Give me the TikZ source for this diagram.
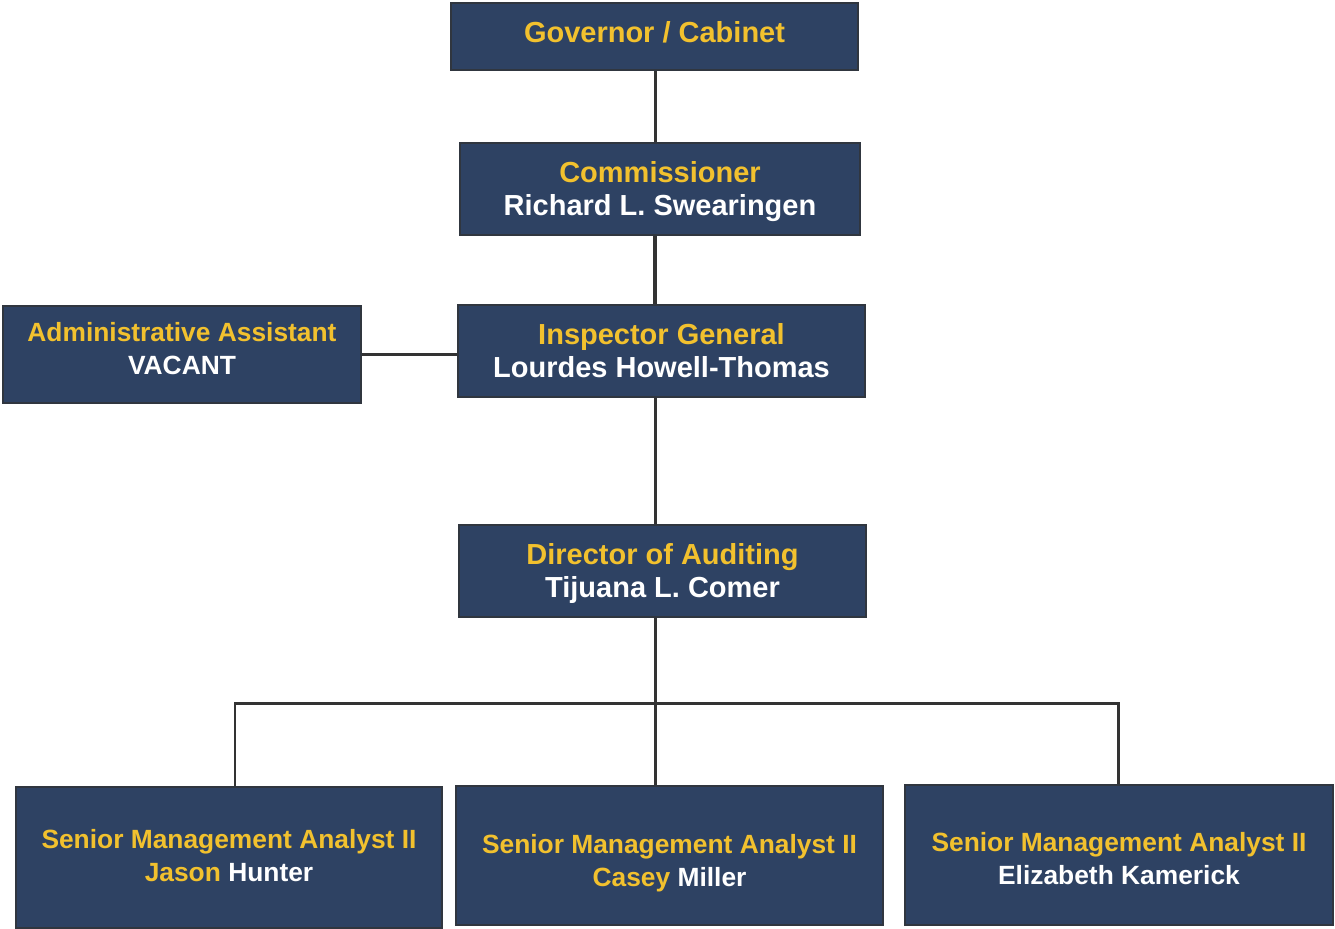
\documentclass[tikz,border=0pt]{standalone}
\usepackage{fontspec}
\setmainfont{Liberation Sans}
\definecolor{boxblue}{HTML}{2E4263}
\definecolor{boxline}{HTML}{30363F}
\definecolor{titlegold}{HTML}{F2C12E}
\tikzset{
  orgbox/.style={draw=boxline, line width=1.2pt, fill=boxblue, inner sep=0pt},
  orgtext/.style={align=center, inner sep=0pt, font=\bfseries\fontsize{16.5}{18.8}\selectfont},
  smalltext/.style={orgtext, font=\bfseries\fontsize{15}{18.8}\selectfont},
  orgline/.style={draw=black!80, line width=1.7pt}
}
\newcommand{\postitle}[1]{\textcolor{titlegold}{#1}}
\newcommand{\posname}[1]{\textcolor{white}{#1}}
\begin{document}
\begin{tikzpicture}
    \useasboundingbox (0,0) rectangle (26.7,-18.56);
        % Kaesten
        \node[orgbox, minimum width=8.14cm, minimum height=1.34cm] (gov) at (13.09,-0.73) {};
        \node[orgbox, minimum width=8.0cm, minimum height=1.84cm] (comm) at (13.2,-3.78) {};
        \node[orgbox, minimum width=8.14cm, minimum height=1.84cm] (ig) at (13.23,-7.02) {};
        \node[orgbox, minimum width=7.16cm, minimum height=1.94cm] (admin) at (3.64,-7.09) {};
        \node[orgbox, minimum width=8.14cm, minimum height=1.84cm] (dir) at (13.25,-11.42) {};
        \node[orgbox, minimum width=8.52cm, minimum height=2.82cm] (smaA) at (4.58,-17.15) {};
        \node[orgbox, minimum width=8.54cm, minimum height=2.78cm] (smaB) at (13.39,-17.11) {};
        \node[orgbox, minimum width=8.56cm, minimum height=2.8cm] (smaC) at (22.38,-17.1) {};

        % Beschriftung
        \node[orgtext] (govtext) at ([yshift=0.08cm]gov.center) {\postitle{Governor / Cabinet}};
        \node[orgtext] (commtext) at ([yshift=-0.06cm]comm.center) {\postitle{Commissioner}\\\posname{Richard L. Swearingen}};
        \node[orgtext] (igtext) at (ig.center) {\postitle{Inspector General}\\\posname{Lourdes Howell-Thomas}};
        \node[smalltext] (admintext) at ([yshift=0.12cm]admin.center) {\postitle{Administrative Assistant}\\\posname{VACANT}};
        \node[orgtext] (dirtext) at ([yshift=-0.05cm]dir.center) {\postitle{Director of Auditing}\\\posname{Tijuana L. Comer}};
        \node[smalltext] (smaAtext) at ([yshift=0.04cm]smaA.center) {\postitle{Senior Management Analyst II}\\\postitle{Jason} \posname{Hunter}};
        \node[smalltext] (smaBtext) at ([yshift=-0.16cm]smaB.center) {\postitle{Senior Management Analyst II}\\\postitle{Casey} \posname{Miller}};
        \node[smalltext] (smaCtext) at ([yshift=-0.08cm]smaC.center) {\postitle{Senior Management Analyst II}\\\posname{Elizabeth Kamerick}};

        % Verbindungslinien
        \def\bary{-14.06}
        \coordinate (trunk) at (13.1,0);
        \coordinate (barL) at (4.7,\bary);
        \coordinate (barM) at (13.1,\bary);
        \coordinate (barR) at (22.36,\bary);
        \draw[orgline] (gov.south -| trunk) -- (comm.north -| trunk);
        \draw[orgline, line width=2.6pt] (comm.south -| trunk) -- (ig.north -| trunk);
        \draw[orgline] (admin.east) -- (admin.east -| ig.west);
        \draw[orgline] (ig.south -| trunk) -- (dir.north -| trunk);
        \draw[orgline] (dir.south -| trunk) -- (barM);
        \draw[orgline] (barL |- smaA.north) -- (barL) -- (barR) -- (barR |- smaC.north);
        \draw[orgline] (barM) -- (barM |- smaB.north);
    \end{tikzpicture}
\end{document}
